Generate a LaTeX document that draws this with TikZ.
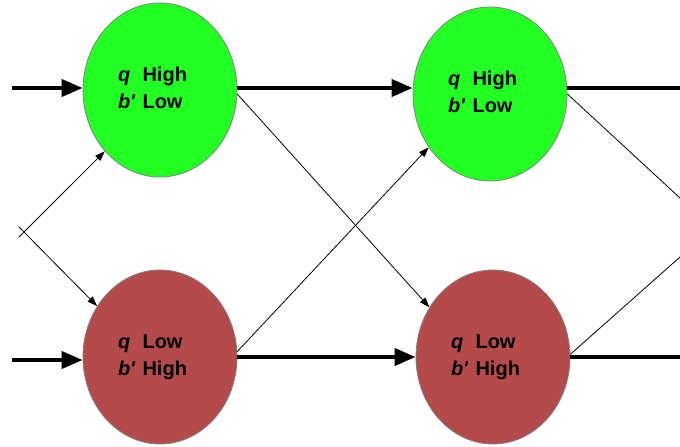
\documentclass[tikz,border=0pt]{standalone}
\usepackage{fontspec}
\setmainfont{Liberation Sans}
\usetikzlibrary{shapes.geometric,arrows.meta}
\definecolor{stategreen}{RGB}{34,255,34}
\definecolor{statered}{RGB}{181,74,74}

\begin{document}
\begin{tikzpicture}[x=1pt,y=-1pt,
    state/.style={ellipse,draw=gray,line width=0.8pt,minimum width=154pt,minimum height=174pt,inner sep=0pt,
        font=\fontsize{20}{27}\selectfont\bfseries},
    main/.style={line width=4pt,-{Triangle[length=21pt,width=17pt]}},
    cross/.style={line width=0.8pt,-{Triangle[length=10pt,width=7pt]}}]
    \useasboundingbox (0,0) rectangle (680,447);

    % States
    \node[state,fill=stategreen] (hiA) at (160,90)
        {\begin{tabular}{@{}l@{\hspace{7pt}}l@{\hspace{15pt}}}\textit{q}&High\\\textit{b\textquotesingle}&Low\end{tabular}};
    \node[state,fill=statered] (loA) at (160,357)
        {\begin{tabular}{@{}l@{\hspace{7pt}}l@{\hspace{15pt}}}\textit{q}&Low\\\textit{b\textquotesingle}&High\end{tabular}};
    \node[state,fill=stategreen] (hiB) at (490,94)
        {\begin{tabular}{@{}l@{\hspace{7pt}}l@{\hspace{15pt}}}\textit{q}&High\\\textit{b\textquotesingle}&Low\end{tabular}};
    \node[state,fill=statered] (loB) at (493,357)
        {\begin{tabular}{@{}l@{\hspace{7pt}}l@{\hspace{15pt}}}\textit{q}&Low\\\textit{b\textquotesingle}&High\end{tabular}};

    % Free ends
    \coordinate (inHi) at (12,88);
    \coordinate (inLo) at (12,360);
    \coordinate (srcHi) at (19,237);
    \coordinate (srcLo) at (19,227);
    \coordinate (outHi) at (680,88);
    \coordinate (outLo) at (680,357);
    \coordinate (exitHi) at (680,198);
    \coordinate (exitLo) at (680,257);

    % Thick paths
    \draw[main] (inHi) -- (inHi -| hiA.west);
    \draw[main] (inLo) -- (inLo -| loA.west);
    \draw[main] (inHi -| hiA.east) -- (inHi -| hiB.west);
    \draw[main] (loA.east) -- (loB.west);
    \draw[line width=4pt] (inHi -| hiB.east) -- (outHi);
    \draw[line width=4pt] (loB.east) -- (outLo);

    % Crossing links
    \draw[cross] (srcHi) -- (hiA.228);
    \draw[cross] (srcLo) -- (loA.141);
    \draw[cross] (hiA.-3) -- (loB.142);
    \draw[cross] (loA.4) -- (hiB.221);
    \draw[line width=0.8pt] (hiB.east) -- (exitHi);
    \draw[line width=0.8pt] (loB.2) -- (exitLo);
\end{tikzpicture}
\end{document}
